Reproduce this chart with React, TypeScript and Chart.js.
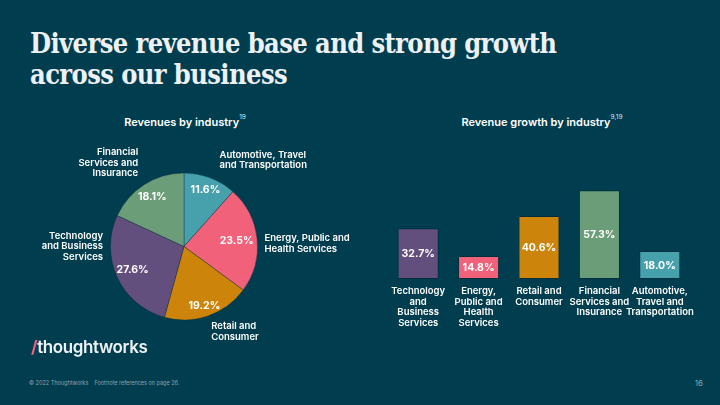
import React, { useEffect, useRef } from "react";
import { Chart, registerables } from "chart.js";

Chart.register(...registerables);

// ---------- data ----------
const pieCategories = [
  ["Automotive, Travel", "and Transportation"],
  ["Energy, Public and", "Health Services"],
  ["Retail and", "Consumer"],
  ["Technology", "and Business", "Services"],
  ["Financial", "Services and", "Insurance"],
];
const pieValues = [11.6, 23.5, 19.2, 27.6, 18.1];

const barCategories = [
  ["Technology", "and", "Business", "Services"],
  ["Energy,", "Public and", "Health", "Services"],
  ["Retail and", "Consumer"],
  ["Financial", "Services and", "Insurance"],
  ["Automotive,", "Travel and", "Transportation"],
];
const barValues = [32.7, 14.8, 40.6, 57.3, 18.0];

// ---------- styles ----------
const BG = "#003d4f";
const pieColors = ["#47a1ad", "#f2617a", "#cc850a", "#634f7d", "#6b9e78"];
const barColors = ["#634f7d", "#f2617a", "#cc850a", "#6b9e78", "#47a1ad"];
const FONT = "Inter, 'Noto Sans', sans-serif";

// label placement for pie outer labels: angle (deg from top, clockwise), distance beyond radius, align, vertical anchor
const pieLabelPlacement = [
  { angle: 25, dist: 10.5, align: "left", v: "bottom", inner: 0.82 },
  { angle: 88, dist: 7, align: "left", v: "middle", inner: 0.72 },
  { angle: 160, dist: 6, align: "left", v: "top", inner: 0.85 },
  { angle: 270, dist: 7.5, align: "right", v: "middle", inner: 0.77 },
  { angle: 326, dist: 8.5, align: "right", v: "bottom", inner: 0.8 },
];

document.body.style.margin = "0";

const fmt = (v: number) => v.toFixed(1) + "%";

const piePlugin = {
  id: "pieLabels",
  afterDraw(chart: any) {
    const ctx = chart.ctx;
    const meta = chart.getDatasetMeta(0);
    ctx.save();
    meta.data.forEach((arc: any, i: number) => {
      const { x, y, startAngle, endAngle, outerRadius } = arc.getProps(
        ["x", "y", "startAngle", "endAngle", "outerRadius"],
        true
      );
      const p = pieLabelPlacement[i];
      const mid = (startAngle + endAngle) / 2;
      const r = outerRadius * p.inner;
      ctx.fillStyle = "#ffffff";
      ctx.font = `bold 10.5px ${FONT}`;
      ctx.textAlign = "center";
      ctx.textBaseline = "middle";
      ctx.fillText(fmt(pieValues[i]), x + Math.cos(mid) * r, y + Math.sin(mid) * r);

      const a = ((p.angle - 90) * Math.PI) / 180;
      const R = outerRadius + p.dist;
      const lx = x + Math.cos(a) * R;
      const ly = y + Math.sin(a) * R;
      const lines = pieCategories[i];
      const lh = 10.4;
      const h = lines.length * lh;
      let top = ly;
      if (p.v === "bottom") top = ly - h;
      else if (p.v === "middle") top = ly - h / 2;
      ctx.font = `600 9.5px ${FONT}`;
      ctx.textAlign = p.align as CanvasTextAlign;
      ctx.textBaseline = "middle";
      lines.forEach((t, j) => ctx.fillText(t, lx, top + lh * j + lh / 2));
    });
    ctx.restore();
  },
};

const barPlugin = {
  id: "barLabels",
  afterDraw(chart: any) {
    const ctx = chart.ctx;
    const meta = chart.getDatasetMeta(0);
    const xs = chart.scales.x;
    const area = chart.chartArea;
    ctx.save();
    ctx.fillStyle = "#ffffff";
    meta.data.forEach((bar: any, i: number) => {
      const { x, y, base } = bar.getProps(["x", "y", "base"], true);
      ctx.font = `bold 10.5px ${FONT}`;
      ctx.textAlign = "center";
      ctx.textBaseline = "middle";
      ctx.fillText(fmt(barValues[i]), x, (y + base) / 2 + 0.5);
      const cx = xs.getPixelForValue(i);
      ctx.font = `600 9.5px ${FONT}`;
      barCategories[i].forEach((t, j) => ctx.fillText(t, cx, area.bottom + 12 + j * 10.7));
    });
    ctx.restore();
  },
};

function PieChart() {
  const ref = useRef<HTMLCanvasElement>(null);
  useEffect(() => {
    const chart = new Chart(ref.current!, {
      type: "pie",
      data: {
        labels: pieCategories.map((l) => l.join(" ")),
        datasets: [
          {
            data: pieValues,
            backgroundColor: pieColors,
            borderColor: "rgba(0,40,55,0.35)",
            borderWidth: 1,
          },
        ],
      },
      options: {
        animation: false,
        responsive: false,
        maintainAspectRatio: false,
        layout: { padding: { left: 110, right: 112, top: 62, bottom: 29 } },
        plugins: { legend: { display: false }, tooltip: { enabled: false }, title: { display: false } },
      },
      plugins: [piePlugin],
    });
    return () => chart.destroy();
  }, []);
  return <canvas ref={ref} width={370} height={240} style={{ position: "absolute", left: 0, top: 110 }} />;
}

function BarChart() {
  const ref = useRef<HTMLCanvasElement>(null);
  useEffect(() => {
    const chart = new Chart(ref.current!, {
      type: "bar",
      data: {
        labels: barCategories.map((l) => l.join(" ")),
        datasets: [
          {
            data: barValues,
            backgroundColor: barColors,
            borderColor: "rgba(0,30,40,0.45)",
            borderWidth: 1,
            borderSkipped: false,
            barPercentage: 0.68,
            categoryPercentage: 1,
          },
        ],
      },
      options: {
        animation: false,
        responsive: false,
        maintainAspectRatio: false,
        layout: { padding: { left: 18, right: 30, top: 76, bottom: 61 } },
        scales: {
          x: { display: false, offset: true },
          y: { display: false, min: 0, max: 60 },
        },
        plugins: { legend: { display: false }, tooltip: { enabled: false } },
      },
      plugins: [barPlugin],
    });
    return () => chart.destroy();
  }, []);
  return <canvas ref={ref} width={350} height={230} style={{ position: "absolute", left: 370, top: 110 }} />;
}

export default function App() {
  const sub: React.CSSProperties = {
    position: "absolute",
    top: 115,
    color: "#ffffff",
    font: `600 11px ${FONT}`,
    textAlign: "center",
    width: 300,
    whiteSpace: "nowrap",
  };
  const sup: React.CSSProperties = { fontSize: 6.5, fontWeight: 400, verticalAlign: "top", position: "relative", top: -2, color: "#dfe6e9" };
  return (
    <div style={{ position: "relative", width: 720, height: 405, background: BG, overflow: "hidden" }}>
      <div
        style={{
          position: "absolute",
          left: 30,
          top: 28,
          color: "#edf1f3",
          fontFamily: "'DejaVu Serif Condensed', 'DejaVu Serif', serif",
          fontStretch: "condensed",
          fontWeight: 700,
          fontSize: 27,
          lineHeight: "31px",
          letterSpacing: -0.6,
        }}
      >
        Diverse revenue base and strong growth
        <br />
        across our business
      </div>
      <div style={{ ...sub, left: 185 - 150 }}>
        Revenues by industry<span style={sup}>19</span>
      </div>
      <div style={{ ...sub, left: 542 - 150 }}>
        Revenue growth by industry<span style={sup}>9,19</span>
      </div>
      <PieChart />
      <BarChart />
      <div
        style={{
          position: "absolute",
          left: 31,
          top: 337,
          color: "#edf1f3",
          font: `600 17px ${FONT}`,
          letterSpacing: -0.4,
        }}
      >
        <span style={{ color: "#f2617a", fontWeight: 700 }}>/</span>thoughtworks
      </div>
      <div style={{ position: "absolute", left: 29, top: 380, color: "#8fa3ab", font: `5.5px ${FONT}` }}>
        © 2022 Thoughtworks&nbsp;&nbsp;&nbsp;&nbsp;Footnote references on page 26.
      </div>
      <div style={{ position: "absolute", left: 683, top: 378, color: "#8fa3ab", font: `8px ${FONT}`, width: 20, textAlign: "right" }}>
        16
      </div>
    </div>
  );
}
